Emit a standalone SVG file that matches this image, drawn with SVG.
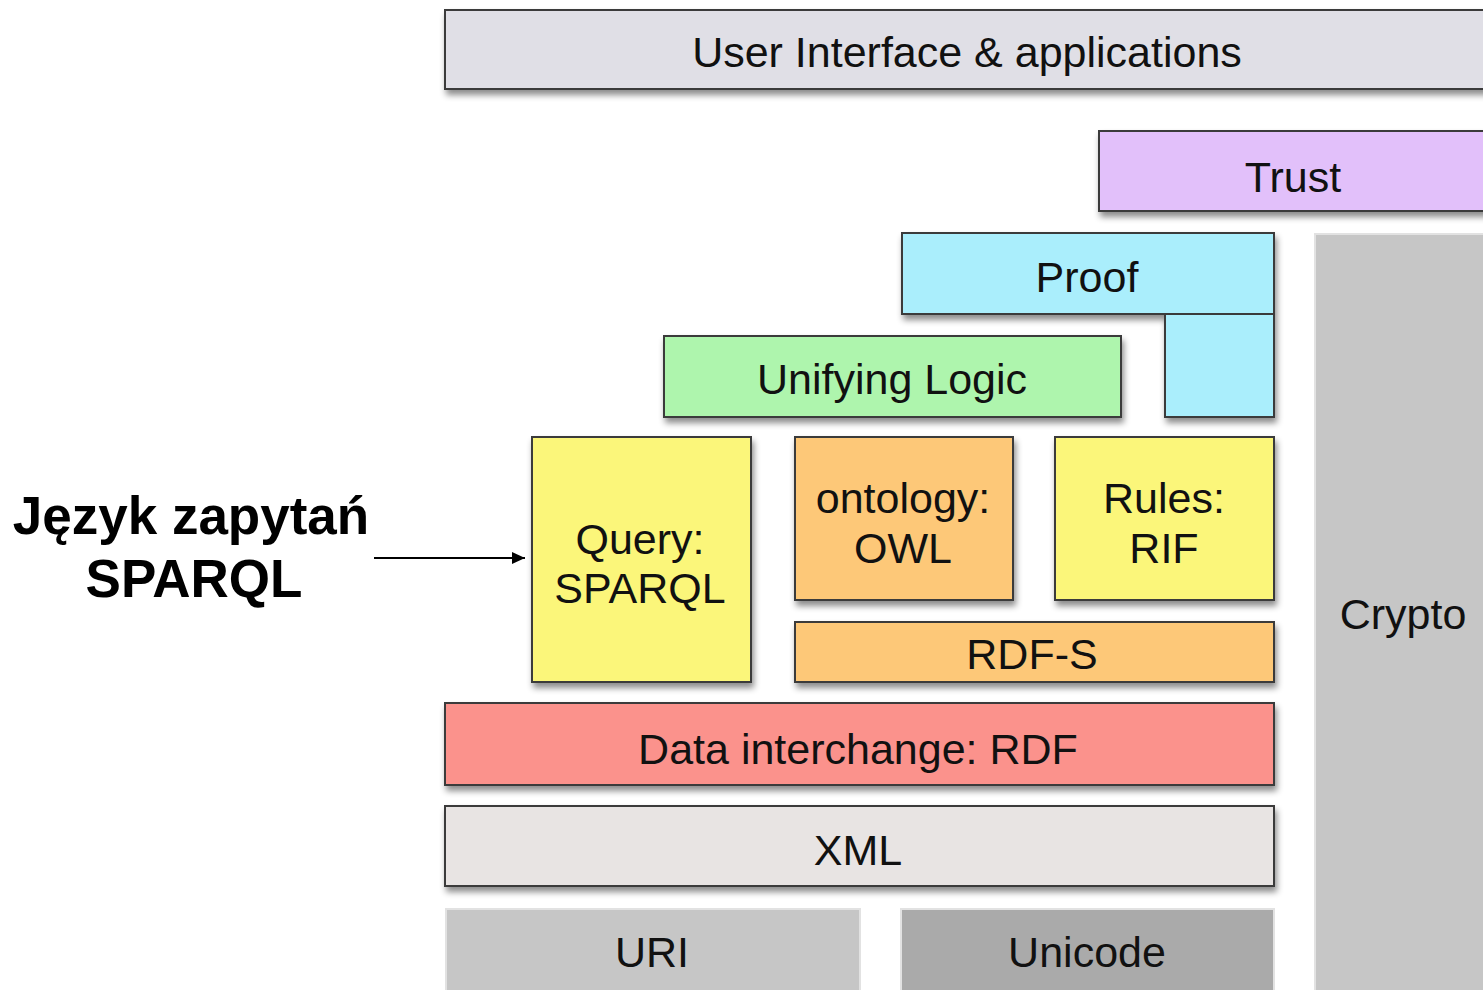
<svg xmlns="http://www.w3.org/2000/svg" width="1483" height="990" viewBox="0 0 1483 990">
<defs>
<filter id="sh" x="-10%" y="-20%" width="130%" height="150%">
<feDropShadow dx="2" dy="5" stdDeviation="3" flood-color="#000" flood-opacity="0.45"/>
</filter>
<marker id="ah" markerWidth="14" markerHeight="14" refX="13" refY="7" orient="auto" markerUnits="userSpaceOnUse">
<path d="M0,1 L13,7 L0,13 Z" fill="#000"/>
</marker>
</defs>
<style>
.b{stroke:#3a3a3a;stroke-width:2;filter:url(#sh)}
.g{stroke:#e2e2e2;stroke-width:2}
.t{font-family:"Liberation Sans",Arial,sans-serif;font-size:43px;fill:#111;text-anchor:middle}
.l{font-family:"Liberation Sans",Arial,sans-serif;font-size:53px;font-weight:bold;fill:#000;text-anchor:middle}
</style>
<rect width="1483" height="990" fill="#fff"/>
<g id="crypto"><rect class="g" x="1315" y="234" width="180" height="770" fill="#c6c6c6"/><text class="t" x="1403" y="629">Crypto</text></g>
<g id="ui"><rect class="b" x="445" y="10" width="1050" height="79" fill="#e0dfe6"/><text class="t" x="967" y="67">User Interface &amp; applications</text></g>
<g id="trust"><rect class="b" x="1099" y="131" width="396" height="80" fill="#e2c0fa"/><text class="t" x="1293" y="192">Trust</text></g>
<g id="proof"><path class="b" d="M902,233 H1274 V417 H1165 V314 H902 Z" fill="#aaeefc"/><line x1="1165" y1="314" x2="1274" y2="314" stroke="#3a3a3a" stroke-width="2"/><text class="t" x="1087" y="292">Proof</text></g>
<g id="logic"><rect class="b" x="664" y="336" width="457" height="81" fill="#aef5ad"/><text class="t" x="892" y="394">Unifying Logic</text></g>
<g id="query"><rect class="b" x="532" y="437" width="219" height="245" fill="#fbf67a"/><text class="t" x="640" y="554">Query:</text><text class="t" x="640" y="603">SPARQL</text></g>
<g id="owl"><rect class="b" x="795" y="437" width="218" height="163" fill="#fdc878"/><text class="t" x="903" y="513">ontology:</text><text class="t" x="903" y="563">OWL</text></g>
<g id="rif"><rect class="b" x="1055" y="437" width="219" height="163" fill="#fbf67a"/><text class="t" x="1164" y="513">Rules:</text><text class="t" x="1164" y="563">RIF</text></g>
<g id="rdfs"><rect class="b" x="795" y="622" width="479" height="60" fill="#fdc878"/><text class="t" x="1032" y="669">RDF-S</text></g>
<g id="rdf"><rect class="b" x="445" y="703" width="829" height="82" fill="#fb928c"/><text class="t" x="858" y="764">Data interchange: RDF</text></g>
<g id="xml"><rect class="b" x="445" y="806" width="829" height="80" fill="#e8e4e3"/><text class="t" x="858" y="865">XML</text></g>
<g id="uri"><rect class="g" x="446" y="909" width="414" height="90" fill="#c6c6c6"/><text class="t" x="652" y="967">URI</text></g>
<g id="unicode"><rect class="g" x="901" y="909" width="373" height="90" fill="#aaaaaa"/><text class="t" x="1087" y="967">Unicode</text></g>
<g id="label"><text class="l" x="191" y="534">Język zapytań</text><text class="l" x="194" y="597">SPARQL</text></g>
<g id="connectors"><line x1="374" y1="558" x2="525" y2="558" stroke="#000" stroke-width="2" marker-end="url(#ah)"/></g>
</svg>
